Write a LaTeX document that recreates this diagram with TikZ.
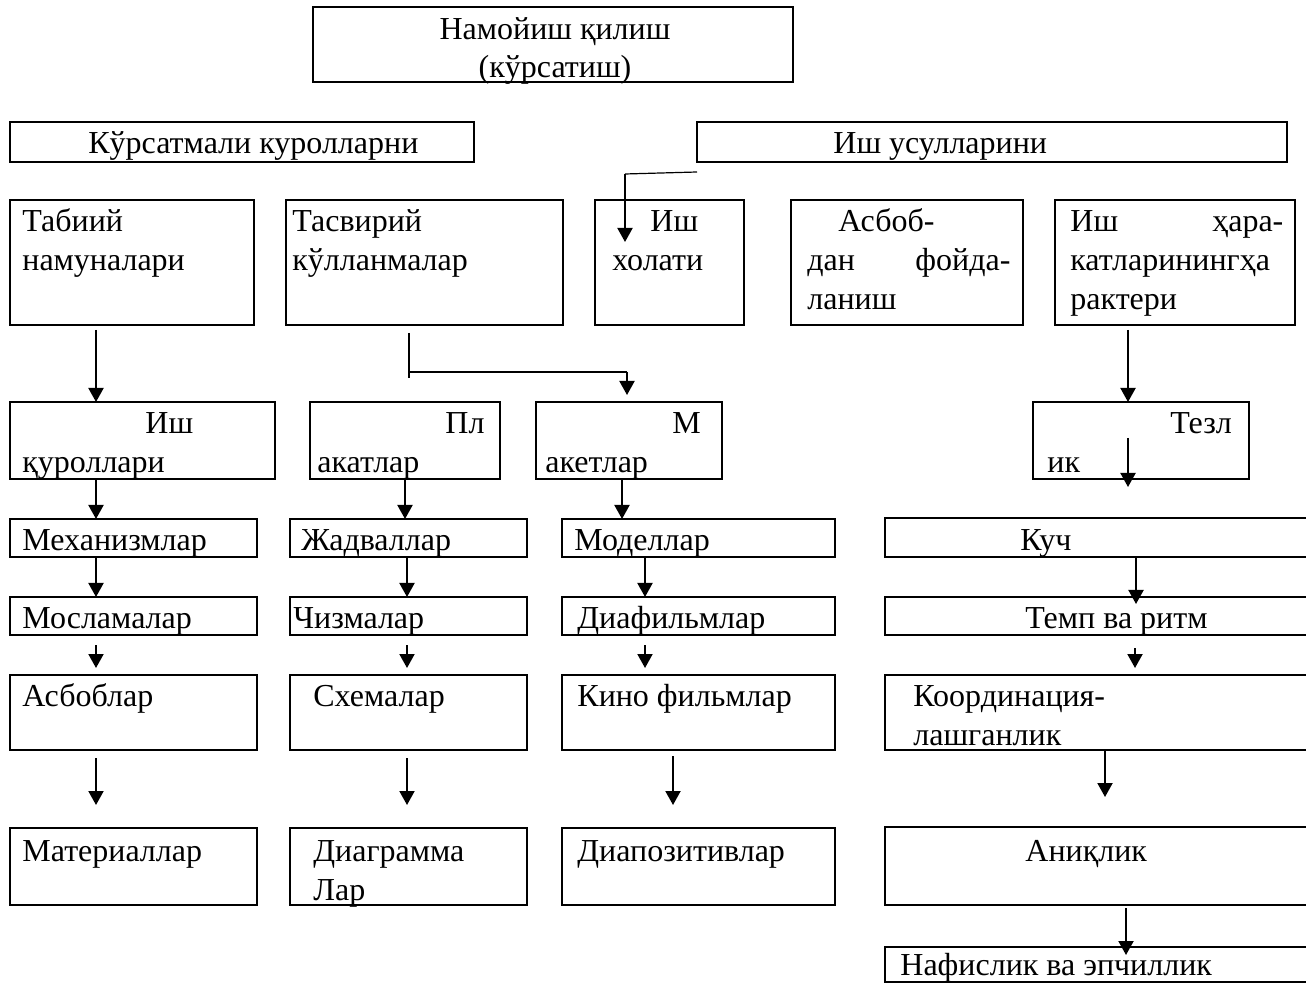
\documentclass[tikz,border=0pt]{standalone}
\usepackage{fontspec}
\setmainfont{Liberation Serif}
\usetikzlibrary{arrows.meta}
\definecolor{color_blok_line}{HTML}{000000}
\colorlet{color_blok_text}{color_blok_line}
\def\bloklinewidth{1pt}
\def\strelkalinewidth{1pt}
\def\tonklinewidth{0.6pt}
\def\blokfont{\fontsize{16pt}{19.5pt}\selectfont}
\def\ust{\rule{0pt}{12pt}}
\tikzset{
    blok/.style={draw=color_blok_line, line width=\bloklinewidth, rectangle, anchor=north west, inner sep=0pt, outer sep=0pt},
    yozuv/.style={color_blok_text, anchor=north west, inner sep=0pt, align=left, font=\blokfont},
    strelkaline/.style={draw=color_blok_line, line width=\strelkalinewidth, -{Triangle[length=7pt,width=7.5pt]}},
    tonk/.style={draw=color_blok_line, line width=\tonklinewidth},
}
% box: name, corners (px), text corner (px, first baseline), text
\def\blok(#1)(#2,#3,#4,#5)(#6,#7)#8{
    \node[blok, minimum width={(#4-#2)*0.5pt}, minimum height={(#5-#3)*0.5pt}] (#1) at (#2,#3) {};
    \node[yozuv] (#1y) at (#6,#7-24) {\ust #8};
}
% arrow down: from box, to box, column (px), gaps at start and end
\def\strelka(#1,#2)(#3)(#4,#5){
    \draw[strelkaline] ([yshift=-#4]#1.south -| #3,0) -- ([yshift=#5]#2.north -| #3,0);
}

\begin{document}
\begin{tikzpicture}[x=0.5pt, y=-0.5pt]
        \useasboundingbox (0,0) rectangle (1306,983);
        % top
        \node[blok, minimum width=240pt, minimum height=37.5pt] (nam) at (313,7) {};
        \node[yozuv, anchor=north, align=center, font=\fontsize{16pt}{19pt}\selectfont] (namy) at (555,15) {\ust Намойиш қилиш\\(кўрсатиш)};
        \blok(kur)(10,122,474,162)(88,153){Кўрсатмали куролларни}
        \blok(usul)(697,122,1287,162)(833,153){Иш усулларини}
        % second row
        \blok(tab)(10,200,254,325)(22,231){Табиий\\намуналари}
        \blok(tas)(286,200,563,325)(292,231){Тасвирий\\кўлланмалар}
        \blok(hol)(595,200,744,325)(612,231){\hspace*{19pt}Иш\\холати}
        \blok(asb)(791,200,1023,325)(807,231){\hspace*{15.5pt}Асбоб-\\\hbox to 101.5pt{дан\hfill фойда-}\\ланиш}
        \blok(har)(1055,200,1295,325)(1070,231){\hbox to 106.5pt{Иш\hfill ҳара-}\\катларинингҳа\\рактери}
        % third row
        \blok(qur)(10,402,275,479)(22,433){\hspace*{61.5pt}Иш\\қуроллари}
        \blok(pla)(310,402,500,479)(317,433){\hspace*{64pt}Пл\\акатлар}
        \blok(mak)(536,402,722,479)(545,433){\hspace*{63.5pt}М\\акетлар}
        \blok(tez)(1033,402,1249,479)(1047,433){\hspace*{61.5pt}Тезл\\ик}
        % columns
        \blok(mex)(10,519,257,557)(22,550){Механизмлар}
        \blok(jad)(290,519,527,557)(301,550){Жадваллар}
        \blok(mod)(562,519,835,557)(574,550){Моделлар}
        \blok(kuch)(885,518,1310,557)(1020,550){Куч}
        \blok(mos)(10,597,257,635)(22,628){Мосламалар}
        \blok(chi)(290,597,527,635)(293,628){Чизмалар}
        \blok(dif)(562,597,835,635)(577,628){Диафильмлар}
        \blok(temp)(885,597,1310,635)(1025,628){Темп ва ритм}
        \blok(asbl)(10,675,257,750)(22,706){Асбоблар}
        \blok(sxe)(290,675,527,750)(313,706){Схемалар}
        \blok(kino)(562,675,835,750)(577,706){Кино фильмлар}
        \blok(koor)(885,675,1310,750)(913,706){Координация-\\лашганлик}
        \blok(mat)(10,828,257,905)(22,861){Материаллар}
        \blok(dia)(290,828,527,905)(313,861){Диаграмма\\Лар}
        \blok(diap)(562,828,835,905)(577,861){Диапозитивлар}
        \blok(ani)(885,827,1310,905)(1025,861){Аниқлик}
        \blok(naf)(885,947,1310,982)(900,975){Нафислик ва эпчиллик}

        % bent connectors
        \draw[tonk] ([yshift=-5pt]usul.south west) -- ++(-72,2) coordinate (usulbend);
        \draw[strelkaline] (usulbend) -- ([yshift=-21pt]usulbend |- hol.north);
        \draw[tonk] ([yshift=-4pt]tas.south -| 409,0) -- ++(0,45);
        \draw[tonk] ([yshift=-23.5pt]tas.south -| 409,0) -- ([yshift=-23.5pt]tas.south -| 627,0) coordinate (tasbend);
        \draw[strelkaline] (tasbend) -- ([yshift=3.5pt]tasbend |- mak.north);
        % arrows
        \strelka(tab,qur)(96)(2.5pt,0pt)
        \strelka(har,tez)(1128)(2.5pt,0pt)
        \strelka(qur,mex)(96)(0pt,0pt)
        \strelka(pla,jad)(405)(0pt,0pt)
        \strelka(mak,mod)(622)(0pt,0pt)
        \strelka(tez,kuch)(1128)(-20.5pt,15.5pt)
        \strelka(mex,mos)(96)(0pt,0pt)
        \strelka(jad,chi)(407)(0pt,0pt)
        \strelka(mod,dif)(645)(0pt,0pt)
        \strelka(kuch,temp)(1136)(0pt,-3.5pt)
        \strelka(mos,asbl)(96)(5pt,3.5pt)
        \strelka(chi,sxe)(407)(5pt,3.5pt)
        \strelka(dif,kino)(645)(5pt,3.5pt)
        \strelka(temp,koor)(1135)(6.5pt,3.5pt)
        \strelka(asbl,mat)(96)(4pt,11.5pt)
        \strelka(sxe,dia)(407)(4pt,11.5pt)
        \strelka(kino,diap)(673)(3pt,11.5pt)
        \strelka(koor,ani)(1105)(0pt,15pt)
        \strelka(ani,naf)(1126)(1.5pt,-4pt)
    \end{tikzpicture}
\end{document}
